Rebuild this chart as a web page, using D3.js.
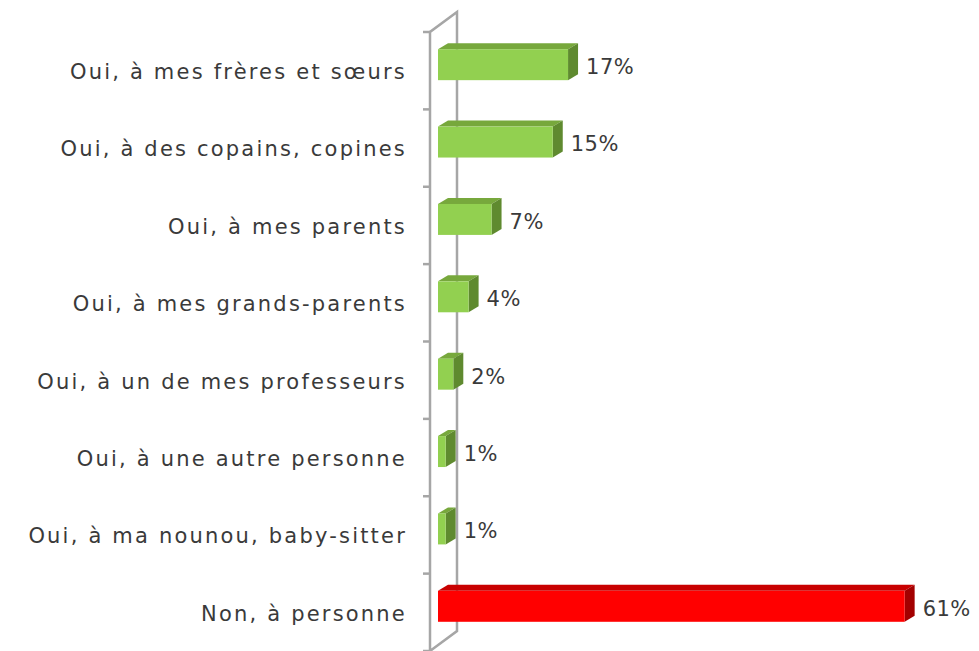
<!DOCTYPE html>
<html>
<head>
<meta charset="utf-8">
<script src="https://cdn.jsdelivr.net/npm/d3@7"></script>
<style>
  body { margin: 0; background: #fff; }
  text { font-family: "DejaVu Sans", sans-serif; fill: #3a3a3a; }
</style>
</head>
<body>
<div id="chart"></div>
<script>
// Categories and values (%)
const categories = [
  "Oui, à mes frères et sœurs",
  "Oui, à des copains, copines",
  "Oui, à mes parents",
  "Oui, à mes grands-parents",
  "Oui, à un de mes professeurs",
  "Oui, à une autre personne",
  "Oui, à ma nounou, baby-sitter",
  "Non, à personne"
];
const values = [17, 15, 7, 4, 2, 1, 1, 61];
const highlighted = ["Non, à personne"];

const w = 979;
const h = 651;

// front plane of the 3D wall
const x0 = 430;
const plotTop = 32, plotBottom = 651;
// offset of the back of the wall, of the bars' front face, and the bars' depth
const wallDx = 27, wallDy = -20;
const barDx = 8, barDy = -6;
const depthDx = 10, depthDy = -6;

const data = categories.map((c, i) => ({ cat: c, val: values[i] }));

const xScale = d3.scaleLinear()
  .domain([0, 70])
  .range([x0, x0 + 7.65 * 70]);

const yScale = d3.scaleBand()
  .domain(categories)
  .range([plotTop, plotBottom])
  .paddingInner(0.6)
  .paddingOuter(0.3);

const svg = d3.select("#chart")
  .append("svg")
  .attr("width", w)
  .attr("height", h);

// Wall (axis) drawn in perspective
const wall = svg.append("g")
  .attr("fill", "none")
  .attr("stroke", "#a6a6a6")
  .attr("stroke-width", 2.5);

wall.append("path")
  .attr("d", `M${x0},${plotBottom + 5} L${x0},${plotTop} L${x0 + wallDx},${plotTop + wallDy} L${x0 + wallDx},${plotBottom + wallDy} L${x0},${plotBottom}`);

// tick marks at band boundaries
const step = yScale.step();
const bounds = d3.range(categories.length + 1).map(i => plotTop + i * step);
wall.selectAll("line.tick")
  .data(bounds)
  .enter()
  .append("line")
  .attr("class", "tick")
  .attr("x1", x0 - 7)
  .attr("x2", x0)
  .attr("y1", d => d)
  .attr("y2", d => d);

// Bars
const colorsFor = d => highlighted.includes(d.cat)
  ? { front: "#ff0000", top: "#c80000", side: "#a30000" }
  : { front: "#92d050", top: "#77a83c", side: "#5f8a2f" };

const bars = svg.selectAll("g.bar")
  .data(data)
  .enter()
  .append("g")
  .attr("class", "bar");

bars.each(function(d) {
  const g = d3.select(this);
  const c = colorsFor(d);
  const xl = xScale(0) + barDx;
  const xr = xScale(d.val) + barDx;
  const yt = yScale(d.cat) + barDy;
  const yb = yt + yScale.bandwidth();

  // top face
  g.append("path")
    .attr("d", `M${xl},${yt} L${xl + depthDx},${yt + depthDy} L${xr + depthDx},${yt + depthDy} L${xr},${yt} Z`)
    .attr("fill", c.top);
  // side face
  g.append("path")
    .attr("d", `M${xr},${yt} L${xr + depthDx},${yt + depthDy} L${xr + depthDx},${yb + depthDy} L${xr},${yb} Z`)
    .attr("fill", c.side);
  // front face
  g.append("rect")
    .attr("x", xl)
    .attr("y", yt)
    .attr("width", xr - xl)
    .attr("height", yb - yt)
    .attr("fill", c.front);

  // value label
  g.append("text")
    .attr("x", xr + depthDx + 8)
    .attr("y", (yt + yb) / 2 + 2)
    .attr("dy", "0.35em")
    .attr("font-size", 21)
    .attr("letter-spacing", 0.5)
    .text(d.val + "%");
});

// Category labels
svg.selectAll("text.cat")
  .data(data)
  .enter()
  .append("text")
  .attr("class", "cat")
  .attr("x", 407)
  .attr("y", d => yScale(d.cat) + yScale.bandwidth() / 2 + 1)
  .attr("dy", "0.35em")
  .attr("text-anchor", "end")
  .attr("font-size", 21)
  .attr("letter-spacing", 2.2)
  .text(d => d.cat);
</script>
</body>
</html>
